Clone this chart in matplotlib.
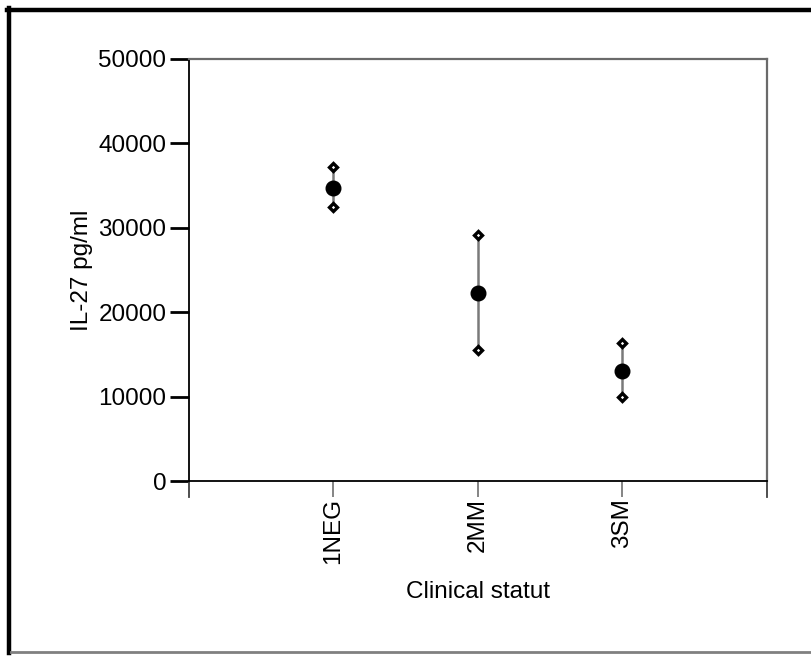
import matplotlib
matplotlib.use("Agg")
import matplotlib.pyplot as plt
from matplotlib.lines import Line2D

categories = ["1NEG", "2MM", "3SM"]
means = [34700, 22250, 13050]
upper = [37250, 29200, 16400]
lower = [32500, 15500, 9950]
yticks = [0, 10000, 20000, 30000, 40000, 50000]

plt.rcParams['font.family'] = ['Liberation Sans', 'DejaVu Sans']

W, H = 812, 659
fig = plt.figure(figsize=(W / 100, H / 100), dpi=100)
ax = fig.add_axes([189 / W, 1 - 481 / H, (767 - 189) / W, (481 - 59) / H])

xs = list(range(1, len(categories) + 1))
for x, m, lo, hi in zip(xs, means, lower, upper):
    ax.plot([x, x], [lo, hi], color='#7a7a7a', lw=1.8, zorder=2)
    ax.plot([x, x], [lo, hi], linestyle='none', marker='D', markersize=4.5,
            markerfacecolor='white', markeredgecolor='black', markeredgewidth=2.4, zorder=3)
ax.plot(xs, means, linestyle='none', marker='o', markersize=10.5, color='black', zorder=4)

ax.set_xlim(0, 4)
ax.set_ylim(0, 50000)
ax.set_yticks(yticks)
ax.set_yticklabels([str(v) for v in yticks], fontsize=17.5)
ax.tick_params(axis='y', length=13.7, width=2, color='black', pad=2.5)

ax.set_xticks(xs)
ax.set_xticklabels(categories, rotation=90, fontsize=17.5)
ax.tick_params(axis='x', length=11.5, width=1.2, color='#707070', pad=1)

# axis-end ticks at x=0 and x=4
for xe in (0.0, 1.0):
    ax.add_line(Line2D([xe, xe], [0, -16 / (481 - 59)], transform=ax.transAxes,
                       color='#404040', lw=1.3, clip_on=False))

for s in ('left', 'bottom'):
    ax.spines[s].set_color('black')
    ax.spines[s].set_linewidth(1.3)
for s in ('top', 'right'):
    ax.spines[s].set_color('#6a6a6a')
    ax.spines[s].set_linewidth(1.6)

ax.set_ylabel("IL-27 pg/ml", fontsize=17.5, labelpad=4)
ax.set_xlabel("Clinical statut", fontsize=17.5, labelpad=12)

# figure frame
fig.add_artist(Line2D([7 / W, 1], [1 - 10 / H, 1 - 10 / H], transform=fig.transFigure,
                      color='black', lw=3.2))
fig.add_artist(Line2D([9 / W, 9 / W], [1 - 8 / H, 1 - 653 / H], transform=fig.transFigure,
                      color='black', lw=3.2))
fig.add_artist(Line2D([11 / W, 1], [1 - 652 / H, 1 - 652 / H], transform=fig.transFigure,
                      color='#808080', lw=2))

fig.savefig("out.png", dpi=100)
